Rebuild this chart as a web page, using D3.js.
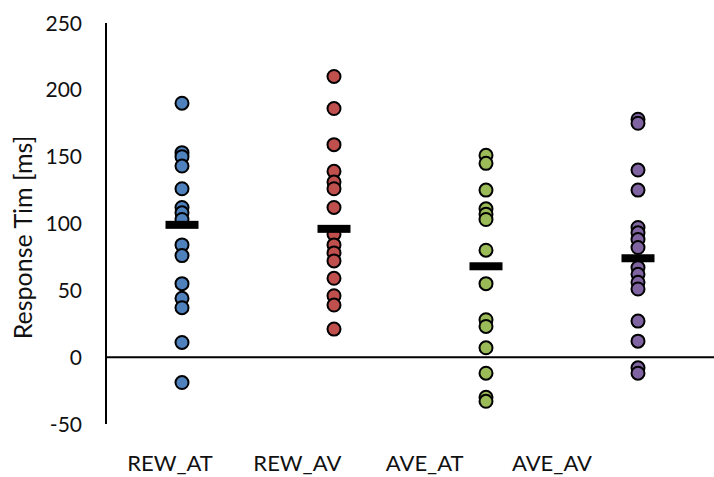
<!DOCTYPE html>
<html>
<head>
  <script src="https://cdnjs.cloudflare.com/ajax/libs/d3/7.8.5/d3.min.js"></script>
  <style>
    body { margin: 0; background: white; }
    svg text { font-family: Lato, "Open Sans", sans-serif; fill: #111; }
  </style>
</head>
<body>
  <div id="chart"></div>
  <script>
    const groups = ["REW_AT", "REW_AV", "AVE_AT", "AVE_AV"];
    const colors = ["#4f81bd", "#c0504d", "#9bbb59", "#8064a2"];

    // response times per participant (ms)
    const rewAT = [190, 153, 150, 143, 126, 112, 108, 103, 84, 76, 55, 44, 37, 11, -19];
    const rewAV = [210, 186, 159, 139, 131, 126, 112, 92, 84, 78, 72, 59, 46, 39, 21];
    const aveAT = [151, 145, 125, 111, 107, 103, 80, 55, 28, 23, 7, -12, -30, -33];
    const aveAV = [178, 175, 140, 125, 97, 93, 88, 82, 67, 62, 56, 51, 27, 12, -8, -12];
    const means = [99, 96, 68, 74];

    const yTicks = [-50, 0, 50, 100, 150, 200, 250];

    const width = 714, height = 477;
    const plotLeft = 106, plotTop = 23, plotBottom = 424;

    const svg = d3.select("#chart").append("svg")
      .attr("width", width)
      .attr("height", height);

    const y = d3.scaleLinear().domain([-50, 250]).range([plotBottom, plotTop]);
    // points sit at x = 1..4 on a 0.5..4.5 axis
    const x = d3.scaleLinear().domain([0.5, 4.5]).range([plotLeft, width]);
    // category labels are placed on their own
    const xLabel = d3.scalePoint().domain(groups).range([170, 552]);

    // y axis line + tick labels (no tick marks)
    svg.append("line")
      .attr("x1", plotLeft).attr("x2", plotLeft)
      .attr("y1", y(250)).attr("y2", y(-50))
      .attr("stroke", "#000").attr("stroke-width", 2);

    svg.selectAll(".ytick")
      .data(yTicks)
      .enter()
      .append("text")
      .attr("class", "ytick")
      .attr("x", 82)
      .attr("y", d => y(d))
      .attr("dy", "0.36em")
      .attr("text-anchor", "end")
      .style("font-size", "21px")
      .text(d => d);

    // zero line
    svg.append("line")
      .attr("x1", plotLeft).attr("x2", width)
      .attr("y1", y(0)).attr("y2", y(0))
      .attr("stroke", "#000").attr("stroke-width", 2);

    svg.append("text")
      .attr("transform", `translate(32,${(plotTop + plotBottom) / 2 + 14}) rotate(-90)`)
      .attr("text-anchor", "middle")
      .style("font-size", "25px")
      .text("Response Tim [ms]");

    svg.selectAll(".xlabel")
      .data(groups)
      .enter()
      .append("text")
      .attr("class", "xlabel")
      .attr("x", d => xLabel(d))
      .attr("y", 471)
      .attr("text-anchor", "middle")
      .style("font-size", "22px")
      .text(d => d);

    // dots
    const series = [rewAT, rewAV, aveAT, aveAV];
    series.forEach((vals, i) => {
      svg.selectAll(".dot" + i)
        .data(vals)
        .enter()
        .append("circle")
        .attr("class", "dot" + i)
        .attr("cx", x(i + 1))
        .attr("cy", d => y(d))
        .attr("r", 6.5)
        .attr("fill", colors[i])
        .attr("stroke", "#000")
        .attr("stroke-width", 2);
    });

    // mean bars
    svg.selectAll(".mean")
      .data(means)
      .enter()
      .append("rect")
      .attr("class", "mean")
      .attr("x", (d, i) => x(i + 1) - 16.5)
      .attr("y", d => y(d) - 4)
      .attr("width", 33)
      .attr("height", 8)
      .attr("fill", "#000");
  </script>
</body>
</html>
